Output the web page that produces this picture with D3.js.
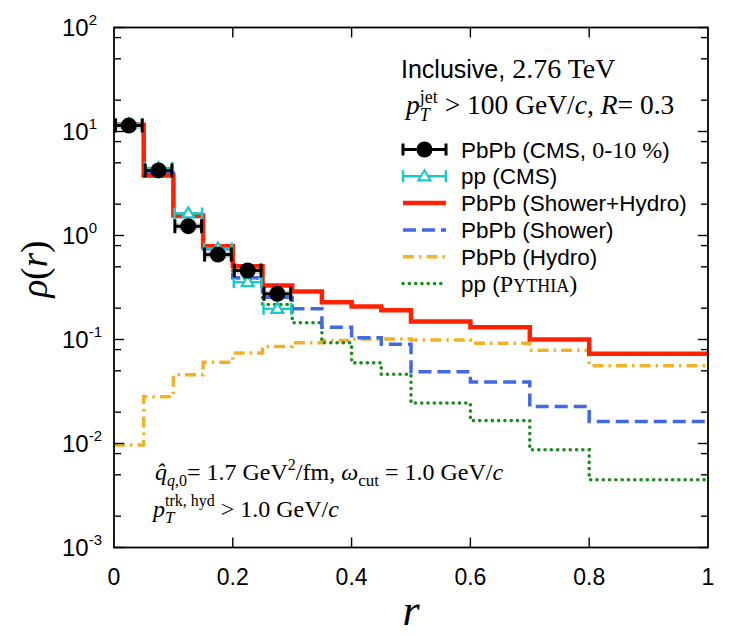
<!DOCTYPE html>
<html lang="en">
<head>
<meta charset="utf-8">
<title>Jet shape rho(r)</title>
<script src="https://cdnjs.cloudflare.com/ajax/libs/d3/7.8.5/d3.min.js"></script>
<style>
  body { margin: 0; background: #fff; }
  svg { display: block; }
</style>
</head>
<body>
<div id="viz"></div>
<script>
// bin edges in r and the step values of each curve
const rEdges = [0, 0.05, 0.1, 0.15, 0.2, 0.25, 0.3, 0.35, 0.4, 0.45, 0.5, 0.6, 0.7, 0.8, 1.0];
const showerHydro = [11.6, 3.78, 1.56, 0.79, 0.507, 0.33, 0.29, 0.228, 0.208, 0.191, 0.149, 0.131, 0.100, 0.073];
const showerOnly = [11.5, 3.95, 1.52, 0.745, 0.392, 0.255, 0.198, 0.131, 0.104, 0.090, 0.049, 0.039, 0.0227, 0.0163];
const hydroOnly = [0.0097, 0.0282, 0.0457, 0.0605, 0.074, 0.0857, 0.093, 0.098, 0.101, 0.101, 0.099, 0.092, 0.079, 0.056];
const pythiaPP = [11.6, 4.25, 1.62, 0.76, 0.39, 0.217, 0.145, 0.093, 0.0596, 0.0463, 0.0245, 0.0166, 0.0087, 0.00448];

// CMS data points (bins 0 - 0.3)
const cmsLo = [0, 0.05, 0.1, 0.15, 0.2, 0.25];
const cmsHi = [0.05, 0.1, 0.15, 0.2, 0.25, 0.3];
const pbpbCMS = [11.4, 4.22, 1.23, 0.655, 0.461, 0.275];
const ppCMS = [11.8, 4.45, 1.63, 0.75, 0.356, 0.197];

const xTickVals = [0, 0.2, 0.4, 0.6, 0.8, 1];
const yDecades = [1e-3, 1e-2, 1e-1, 1, 10, 100];

const width = 750, height = 636;
const plotL = 114, plotR = 708, plotT = 27.5, plotB = 547.5;
const sans = "'Liberation Sans', Arial, Helvetica, sans-serif";
const serif = "'Liberation Serif', 'Times New Roman', Times, serif";

const red = "#ff2200", blue = "#4169e1", orange = "#f2b128", green = "#1f8c1f", cyan = "#1cc8c8";

const svg = d3.select("#viz").append("svg")
  .attr("width", width)
  .attr("height", height);

const x = d3.scaleLinear().domain([0, 1]).range([plotL, plotR]);
const y = d3.scaleLog().domain([1e-3, 1e2]).range([plotB, plotT]);

svg.append("clipPath").attr("id", "plotclip")
  .append("rect")
  .attr("x", plotL).attr("y", plotT)
  .attr("width", plotR - plotL).attr("height", plotB - plotT);

const plot = svg.append("g").attr("clip-path", "url(#plotclip)");

// gray systematic boxes for PbPb data
plot.append("g")
  .selectAll("rect")
  .data(pbpbCMS)
  .enter()
  .append("rect")
    .attr("x", (d, i) => x(cmsLo[i]))
    .attr("width", (d, i) => x(cmsHi[i]) - x(cmsLo[i]))
    .attr("y", d => y(d * 1.08))
    .attr("height", d => y(d * 0.92) - y(d * 1.08))
    .attr("fill", "#d6d6d6");

// step curves
const step = d3.line()
  .x(d => x(d[0]))
  .y(d => y(d[1]))
  .curve(d3.curveStepAfter);
const stepPts = vals => rEdges.map((e, i) => [e, vals[Math.min(i, vals.length - 1)]]);

const curves = [
  { vals: hydroOnly, color: orange, w: 3.5, dash: "11,5,2.5,5", cap: "butt" },
  { vals: pythiaPP, color: green, w: 3.6, dash: "0.1,6.2", cap: "round" },
  { vals: showerOnly, color: blue, w: 3.5, dash: "13,6", cap: "butt" },
  { vals: showerHydro, color: red, w: 4.5, dash: null, cap: "butt" }
];

plot.append("g")
  .selectAll("path")
  .data(curves)
  .enter()
  .append("path")
    .attr("d", c => step(stepPts(c.vals)))
    .attr("fill", "none")
    .attr("stroke", c => c.color)
    .attr("stroke-width", c => c.w)
    .attr("stroke-dasharray", c => c.dash)
    .attr("stroke-linecap", c => c.cap);

// pp CMS points: horizontal bars with caps and open triangles
const ppG = plot.append("g").attr("stroke", cyan).attr("fill", "none");
ppCMS.forEach((v, i) => {
  const x0 = x(cmsLo[i]) + 1, x1 = x(cmsHi[i]) - 1, yy = y(v), xc = (x0 + x1) / 2;
  ppG.append("line").attr("x1", x0).attr("x2", x1).attr("y1", yy).attr("y2", yy).attr("stroke-width", 2.5);
  ppG.append("line").attr("x1", x0).attr("x2", x0).attr("y1", yy - 6).attr("y2", yy + 6).attr("stroke-width", 2.5);
  ppG.append("line").attr("x1", x1).attr("x2", x1).attr("y1", yy - 6).attr("y2", yy + 6).attr("stroke-width", 2.5);
  ppG.append("path")
    .attr("d", `M${xc},${yy - 6}L${xc + 6},${yy + 4}L${xc - 6},${yy + 4}Z`)
    .attr("fill", "#fff").attr("stroke-width", 2.2);
});

// PbPb CMS points: black bars with caps and filled circles
const pbG = plot.append("g").attr("stroke", "#000");
pbpbCMS.forEach((v, i) => {
  const x0 = x(cmsLo[i]) + 1.5, x1 = x(cmsHi[i]) - 1.5, yy = y(v);
  pbG.append("line").attr("x1", x0).attr("x2", x1).attr("y1", yy).attr("y2", yy).attr("stroke-width", 3);
  pbG.append("line").attr("x1", x0).attr("x2", x0).attr("y1", yy - 7).attr("y2", yy + 7).attr("stroke-width", 3);
  pbG.append("line").attr("x1", x1).attr("x2", x1).attr("y1", yy - 7).attr("y2", yy + 7).attr("stroke-width", 3);
  pbG.append("circle").attr("cx", (x0 + x1) / 2).attr("cy", yy).attr("r", 8).attr("fill", "#000").attr("stroke", "none");
});

// frame and ticks
const axG = svg.append("g").attr("stroke", "#000").attr("stroke-width", 1.4);
axG.append("rect")
  .attr("x", plotL).attr("y", plotT)
  .attr("width", plotR - plotL).attr("height", plotB - plotT)
  .attr("fill", "none").attr("stroke-width", 1.8);

const yMinors = [];
yDecades.slice(0, -1).forEach(d => [2, 5, 8].forEach(m => yMinors.push(d * m)));
const yTicks = yDecades.map(v => ({ v, len: 10 })).concat(yMinors.map(v => ({ v, len: 7 })));
yTicks.forEach(t => {
  const yy = y(t.v);
  axG.append("line").attr("x1", plotL).attr("x2", plotL + t.len).attr("y1", yy).attr("y2", yy);
  axG.append("line").attr("x1", plotR).attr("x2", plotR - t.len).attr("y1", yy).attr("y2", yy);
});
xTickVals.slice(1, -1).forEach(v => {
  const xx = x(v);
  axG.append("line").attr("x1", xx).attr("x2", xx).attr("y1", plotB).attr("y2", plotB - 10);
  axG.append("line").attr("x1", xx).attr("x2", xx).attr("y1", plotT).attr("y2", plotT + 10);
});

// tick labels
svg.append("g")
  .selectAll("text")
  .data(xTickVals)
  .enter()
  .append("text")
    .attr("x", d => x(d))
    .attr("y", 585)
    .attr("text-anchor", "middle")
    .attr("font-family", sans)
    .attr("font-size", 23)
    .text(d => d3.format("~g")(d));

const yLab = svg.append("g").attr("font-family", sans);
yDecades.forEach(v => {
  const t = yLab.append("text").attr("x", 62).attr("y", y(v) + 8).attr("font-size", 24);
  t.append("tspan").text("10");
  t.append("tspan").attr("dy", -11).attr("font-size", 15).text(Math.round(Math.log10(v)));
});

// rich text helper: parts = [{t, fam, it, size, shift, dx}]
function rich(xp, yp, parts, baseSize, fam) {
  const txt = svg.append("text").attr("x", xp).attr("y", yp)
    .attr("font-family", fam).attr("font-size", baseSize);
  let prev = 0;
  parts.forEach(p => {
    const sh = p.shift === undefined ? prev : p.shift;
    const ts = txt.append("tspan").text(p.t).attr("dy", sh - prev);
    prev = sh;
    if (p.fam) ts.attr("font-family", p.fam);
    if (p.it) ts.attr("font-style", "italic");
    if (p.size) ts.attr("font-size", p.size);
    if (p.dx) ts.attr("dx", p.dx);
  });
  return txt;
}

// header lines
rich(401, 78, [
  { t: "Inclusive,", fam: sans },
  { t: " 2.76 TeV", fam: serif, size: 28 }
], 25, sans);

rich(406, 114, [
  { t: "p", it: true },
  { t: "T", it: true, size: 18, shift: 7 },
  { t: "jet", size: 18, shift: -11, dx: -10 },
  { t: " > 100 GeV/", shift: 0 },
  { t: "c", it: true },
  { t: ", " },
  { t: "R", it: true },
  { t: "= 0.3" }
], 27.5, serif);

// legend
const legRows = [
  { kind: "pbpb", parts: [{ t: "PbPb (CMS, " }, { t: "0-10 %", fam: serif, size: 24 }, { t: ")" }] },
  { kind: "pp", parts: [{ t: "pp (CMS)" }] },
  { kind: "line", c: curves[3], parts: [{ t: "PbPb (Shower+Hydro)" }] },
  { kind: "line", c: curves[2], parts: [{ t: "PbPb (Shower)" }] },
  { kind: "line", c: curves[0], parts: [{ t: "PbPb (Hydro)" }] },
  { kind: "line", c: curves[1], parts: [{ t: "pp (" }, { t: "P", fam: serif, size: 24 }, { t: "YTHIA", fam: serif, size: 18 }, { t: ")", fam: serif, size: 24 }] }
];
const lx0 = 403, lx1 = 446, ly0 = 149.5, lstep = 26.8;
legRows.forEach((row, i) => {
  const yy = ly0 + i * lstep;
  const g = svg.append("g");
  if (row.kind === "line") {
    g.append("line").attr("x1", lx0).attr("x2", lx1).attr("y1", yy).attr("y2", yy)
      .attr("stroke", row.c.color).attr("stroke-width", row.c.w)
      .attr("stroke-dasharray", row.c.dash).attr("stroke-linecap", row.c.cap);
  } else {
    const col = row.kind === "pbpb" ? "#000" : cyan;
    const sw = row.kind === "pbpb" ? 3 : 2.5;
    g.append("line").attr("x1", lx0).attr("x2", lx1).attr("y1", yy).attr("y2", yy).attr("stroke", col).attr("stroke-width", sw);
    g.append("line").attr("x1", lx0).attr("x2", lx0).attr("y1", yy - 6).attr("y2", yy + 6).attr("stroke", col).attr("stroke-width", sw);
    g.append("line").attr("x1", lx1).attr("x2", lx1).attr("y1", yy - 6).attr("y2", yy + 6).attr("stroke", col).attr("stroke-width", sw);
    const xc = (lx0 + lx1) / 2;
    if (row.kind === "pbpb") {
      g.append("circle").attr("cx", xc).attr("cy", yy).attr("r", 8).attr("fill", "#000");
    } else {
      g.append("path").attr("d", `M${xc},${yy - 6}L${xc + 6},${yy + 4}L${xc - 6},${yy + 4}Z`)
        .attr("fill", "#fff").attr("stroke", cyan).attr("stroke-width", 2.2);
    }
  }
  rich(461, yy + 8, row.parts, 22.5, sans);
});

// parameter lines at the bottom
rich(155, 480, [
  { t: "q\u0302", it: true },
  { t: "q", it: true, size: 16, shift: 6 },
  { t: ",0", size: 16 },
  { t: "= 1.7 GeV", shift: 0 },
  { t: "2", size: 16, shift: -10 },
  { t: "/fm, ", shift: 0 },
  { t: "\u03c9", it: true },
  { t: "cut", size: 17, shift: 6 },
  { t: " = 1.0 GeV/", shift: 0 },
  { t: "c", it: true }
], 24, serif);

rich(153, 517, [
  { t: "p", it: true },
  { t: "T", it: true, size: 17, shift: 6 },
  { t: "trk, hyd", size: 16, shift: -11, dx: -9.5 },
  { t: " > 1.0 GeV/", shift: 0 },
  { t: "c", it: true }
], 24, serif);

// axis titles
const yTitle = svg.append("text")
  .attr("transform", "translate(47,269) rotate(-90)")
  .attr("text-anchor", "middle")
  .attr("font-family", serif)
  .attr("font-size", 37);
yTitle.append("tspan").attr("font-style", "italic").text("\u03c1");
yTitle.append("tspan").text("(");
yTitle.append("tspan").attr("font-style", "italic").text("r");
yTitle.append("tspan").text(")");

svg.append("text")
  .attr("x", 411)
  .attr("y", 625)
  .attr("text-anchor", "middle")
  .attr("font-family", serif)
  .attr("font-size", 44)
  .attr("font-style", "italic")
  .text("r");
</script>
</body>
</html>
